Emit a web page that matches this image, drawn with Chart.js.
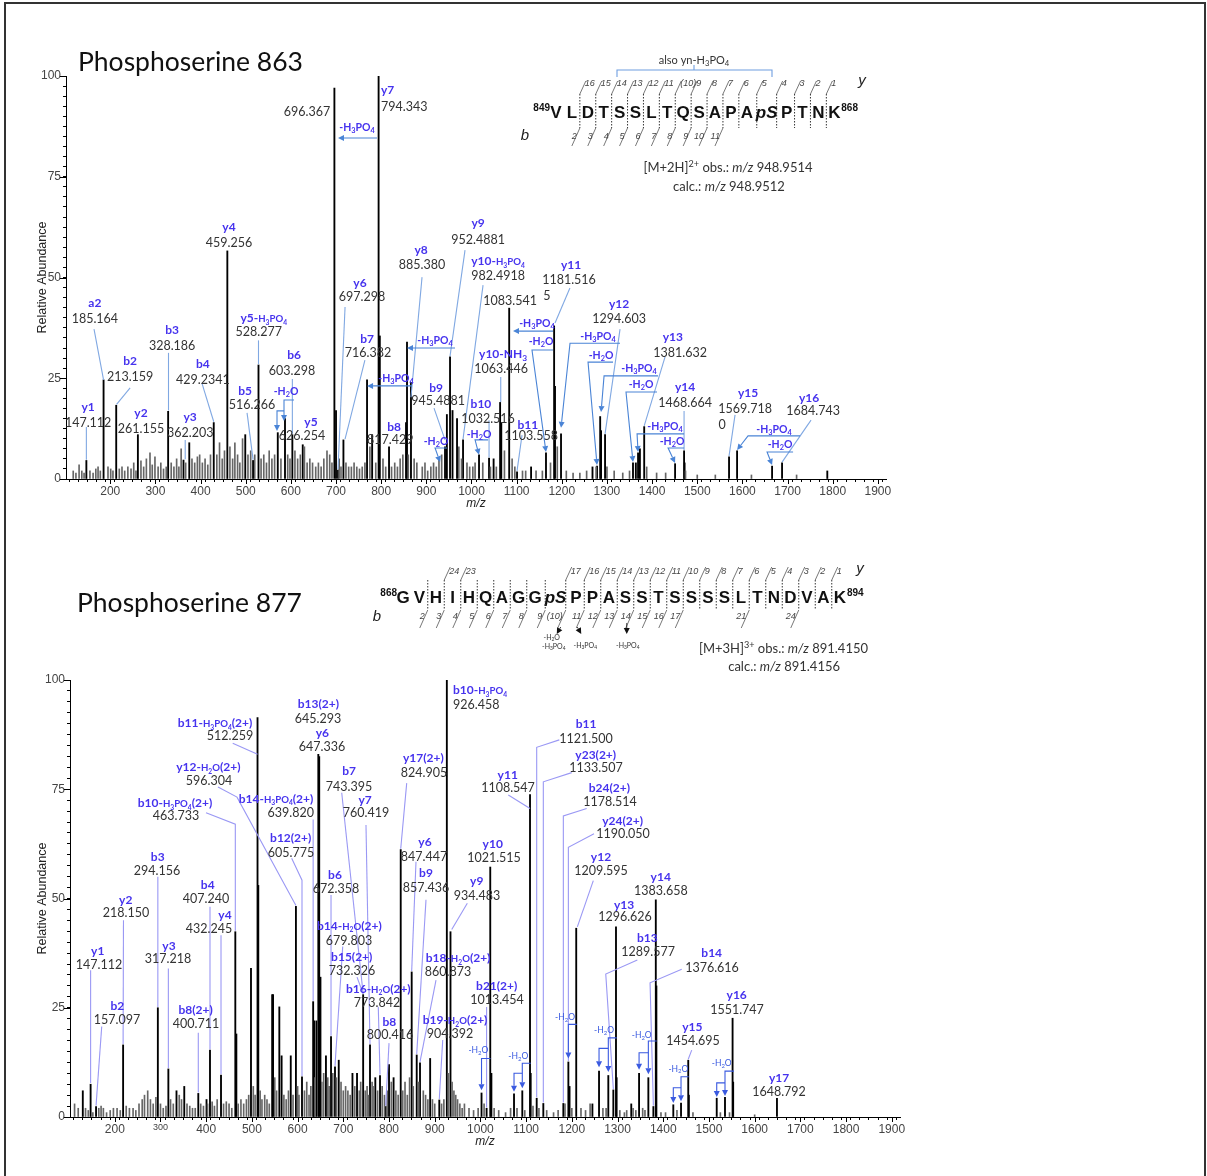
<!DOCTYPE html>
<html><head><meta charset="utf-8">
<script src="https://cdn.jsdelivr.net/npm/chart.js@4.4.1/dist/chart.umd.min.js"></script>
<style>
html,body{margin:0;padding:0;background:#fff;}
body{width:1207px;height:1176px;position:relative;overflow:hidden;}
#frame{position:absolute;left:4px;top:2px;width:1202px;height:1190px;border:2px solid #333;box-sizing:border-box;}
#c1{position:absolute;left:0;top:0;}
#c2{position:absolute;left:0;top:530px;}
</style></head><body>
<div id="frame"></div>
<canvas id="c1" width="1207" height="530"></canvas>
<canvas id="c2" width="1207" height="646"></canvas>
<script>
// ---------------- DATA ----------------
const XMIN = 102, XMAX = 1918;
const xTickStep = 20, xLabelStep = 100;
const yTickStep = 2.5, yLabelStep = 25;

// Phosphoserine 863 : [m/z, relative abundance]
const majorPeaks863 = [[147.1,4.6],[185.2,24.6],[213.2,18.3],[261.2,11],[328.2,16.8],[362.2,4.7],[375,9],[429.2,14],[459.3,56.6],[499,11],[516.3,4.6],[528.3,28.3],[571,11.5],[587,15],[603.3,11],[626.3,8.5],[696.4,97],[700,17],[704.4,2.2],[716.4,9.7],[768.7,24.6],[780,11],[794.3,100],[797,35.5],[817.4,8],[855,14],[857.2,34],[866,24],[941.4,8],[945.5,16],[952.5,30.3],[958,17],[968,15],[981.3,9.7],[1016.7,6],[1038.9,5.2],[1049,5],[1063.4,19],[1066,14],[1083.5,42.4],[1100.9,1.8],[1132,3],[1165,6.5],[1183,38],[1185,23],[1198.3,11.2],[1268,3],[1278,3.2],[1285,15.5],[1287,12],[1295.8,11],[1357.7,4],[1364,4],[1368.9,6.5],[1373,7.5],[1382.5,13],[1450.9,3.8],[1470.8,7],[1472,4],[1570.4,5.5],[1588.2,7],[1665.7,3.2],[1687.8,4],[1788,2]];
const minorPeaks863 = [[118,2],[124,1.5],[131,3.5],[137,2],[142,1.5],[155,2],[162,1.5],[168,2.5],[173,3],[178,2],[195,3],[201,2.5],[206,2],[220,2.5],[226,3],[232,2],[239,3],[246,2.5],[252,4],[257,2],[268,4.5],[274,3],[280,5],[288,6.5],[293,3.5],[299,5.5],[306,3],[312,4],[318,2.5],[324,3],[335,4],[341,3],[347,5],[352,3],[357,7.5],[367,4],[381,5],[387,4],[393,5.5],[398,6],[404,4],[410,5],[416,3.5],[422,6],[436,6],[442,9],[448,5],[453,7],[465,8],[471,5],[476,9],[482,6],[487,4],[493,10],[505,6],[511,7],[520,6],[534,5],[540,6],[546,4],[552,7],[558,5],[564,6],[578,5],[593,6],[598,5],[609,7],[615,5],[621,6],[630,8],[636,4],[642,5],[648,4],[655,3],[661,4],[667,3],[673,5],[680,7],[686,6],[691,4],[707,5],[711,3],[722,4],[728,3],[734,3],[740,4],[746,3],[752,2.5],[758,3],[764,4],[775,8],[788,4],[804,5],[810,3],[823,3],[830,4],[836,3],[842,5],[848,6],[860,6],[873,5],[879,4],[891,3],[897,4],[903,2],[910,3],[916,4],[922,3],[928,5],[934,6],[972,8],[978,5],[990,4],[996,3],[1003,3],[1008,4],[1025,4],[1042,3],[1055,3],[1073,7],[1090,5],[1096,3],[1113,2],[1120,2],[1143,2],[1157,2],[1175,4],[1190,8],[1210,2],[1225,1.5],[1240,1.5],[1255,2],[1276,3],[1300,3],[1316,2],[1335,1.5],[1350,2],[1388,3],[1410,1.5],[1430,1.5],[1474,2],[1500,1],[1540,1],[1620,1],[1720,1]];

// Phosphoserine 877
const majorPeaks877 = [[130,6],[147.1,7.5],[159,2.4],[218.2,16.5],[294.2,25],[317.2,11],[335,6],[352,7],[382.7,5.4],[400.7,4],[408.3,15.3],[432.4,9.6],[463.7,42.4],[466,19],[498,34],[512.3,91.4],[514,53],[544.3,28],[546.3,28],[560,25.2],[565,14],[585,14],[596.3,48.2],[609.6,9.2],[634,26.4],[636,22],[641,22],[645.3,83],[647.3,82.5],[650,32],[662,14],[673.1,18.4],[681.8,11.5],[690,13],[720,10],[730,10],[743.4,28],[758.4,16.5],[770,9],[780.3,9.5],[792.8,2.4],[800,12],[810,9],[825.6,61.2],[849.6,33.2],[860.6,14.2],[867.8,12.4],[890,13.4],[910,3.9],[926.5,100],[934.5,42.4],[1002.4,5.5],[1013.5,2],[1021.5,57.2],[1024,10],[1073.5,5.3],[1091.6,6],[1108.5,73.8],[1110,10],[1123.1,4.3],[1137.6,3.1],[1181.4,3.1],[1192.4,12.6],[1195,7],[1209.6,43.2],[1245,3],[1259.5,10.5],[1279.8,9.5],[1290.8,6.2],[1296.6,43.5],[1298,9],[1330,3],[1347.1,10],[1367.4,9],[1378.4,2.4],[1383.7,49.7],[1385,30],[1422,2.8],[1438.9,3.2],[1454.7,13],[1456,5],[1517,4.3],[1535.1,4.5],[1551.7,22.6],[1553,8],[1648.8,4.3]];
const minorPeaks877 = [[112,3],[120,2],[136,2],[142,1.5],[152,1],[165,2],[170,2.5],[175,2],[182,1],[190,1.5],[197,2],[205,2],[212,1.5],[225,2.5],[232,2],[240,2],[246,1.5],[253,3],[260,4],[265,5],[272,6],[278,4],[284,3],[290,4.5],[300,3],[306,2],[312,2.5],[322,4],[328,3],[341,5],[346,4],[358,3],[364,2.5],[370,2],[376,2],[388,3],[394,2.5],[403,3],[413,3.5],[418,2.5],[424,4],[438,3],[444,3.5],[450,3],[456,2],[470,3],[476,4],[482,3],[488,4],[493,5],[503,7],[507,5],[518,6],[522,4],[528,5],[533,4],[538,3],[550,9],[554,6],[570,5],[575,4],[580,6],[590,5],[600,7],[603,5],[615,6],[620,8],[625,5],[629,7],[638,9],[653,8],[657,10],[666,9],[669,7],[677,10],[685,9],[695,8],[700,6],[705,7],[710,6],[715,5],[725,7],[735,6],[738,8],[748,6],[752,7],[755,5],[763,8],[767,7],[775,6],[785,7],[790,5],[796,6],[805,8],[815,6],[820,5],[830,6],[835,8],[840,5],[845,9],[853,7],[865,8],[875,6],[880,5],[885,4],[895,4],[900,3],[915,3],[920,4],[930,10],[938,8],[942,6],[946,5],[950,4],[955,3],[960,2],[965,3],[975,2],[985,1.5],[995,2],[1008,3],[1030,2],[1040,1.5],[1055,1],[1066,2],[1080,2],[1097,1.5],[1115,2.5],[1128,2],[1145,1.5],[1160,1],[1170,1.5],[1185,3],[1200,2],[1220,2],[1230,1.5],[1240,3],[1268,2],[1275,2],[1305,1.5],[1315,1],[1320,1.5],[1334,2],[1340,1.5],[1355,2],[1360,1.5],[1395,1],[1405,1],[1430,1.5],[1465,1],[1525,1],[1545,1],[1600,0.5]];

// Peptide sequences
const seq863 = ['V','L','D','T','S','S','L','T','Q','S','A','P','A','pS','P','T','N','K'];
const seq877 = ['G','V','H','I','H','Q','A','G','G','pS','P','P','A','S','S','T','S','S','S','S','L','T','N','D','V','A','K'];

// Annotations (anchors in data coordinates: [m/z, abundance])
const ions863 = [
 {ion:'a2', mz:'185.164', at:[166,43.7], lead:[[164,37.2],[185.2,24.6]]},
 {ion:'y1', mz:'147.112', at:[151,17.9], lead:[[147.1,12.9],[147.1,4.8]]},
 {ion:'b2', mz:'213.159', at:[244,29.3], lead:[[244,22.6],[214,18.5]]},
 {ion:'y2', mz:'261.155', at:[268,16.4]},
 {ion:'b3', mz:'328.186', at:[337,37], lead:[[329,31.3],[329,17]]},
 {ion:'y3', mz:'362.203', at:[377,15.4], lead:[[366,9.7],[366,4.9]]},
 {ion:'b4', mz:'429.2341', at:[405,28.5], lead:[[403,23.8],[429.2,14.2]]},
 {ion:'y4', mz:'459.256', at:[463,62.5]},
 {ion:'y5-{H_3PO_4}', mz:'528.277', at:[540,40], vat:[529,36.5], lead:[[528.3,34.4],[528.3,28.5]]},
 {ion:'b5', mz:'516.266', at:[498.5,21.8], vat:[514,18.4], lead:[[503,16.4],[516.3,4.8]]},
 {ion:'b6', mz:'603.298', at:[607,30.8], vat:[602.5,27], lead:[[603.3,24.8],[603.3,11.2]]},
 {ion:'y5', mz:'626.254', at:[644.6,14.1], vat:[624.6,10.7]},
 {ion:'', mz:'696.367', at:[635.8,91.1]},
 {ion:'y7', mz:'794.343', at:[799.7,96.5], vat:[799.7,92.5], align:'left'},
 {ion:'y6', mz:'697.298', at:[753,48.6], vat:[757.5,45.2], lead:[[720,42.7],[704.4,2.4]]},
 {ion:'b7', mz:'716.382', at:[768.7,34.7], vat:[771,31.3], lead:[[764,29.5],[720,9.9]]},
 {ion:'y8', mz:'885.380', at:[888.3,57], vat:[890.5,53.3], lead:[[890.5,50.1],[866,20.3]]},
 {ion:'b8', mz:'817.429', at:[828.5,12.9], vat:[820,9.9]},
 {ion:'b9', mz:'945.4881', at:[921.5,22.6], vat:[925.9,19.4], lead:[[917,17.6],[941.4,9.7]]},
 {ion:'y9', mz:'952.4881', at:[1014.5,63.5], vat:[1014.5,59.5], lead:[[985.7,56.8],[952.5,30.5]]},
 {ion:'y10-{H_3PO_4}', mz:'982.4918', at:[1058.8,54.1], vat:[1058.8,50.4], lead:[[1025.6,48.1],[981.3,9.9]]},
 {ion:'', mz:'1083.541', at:[1085.4,44.4]},
 {ion:'y10-NH_3', mz:'1063.446', at:[1070,31], vat:[1065.5,27.3], lead:[[1064.8,25.3],[1064.8,19.1]]},
 {ion:'b10', mz:'1032.516', at:[1021,18.6], vat:[1036.6,15.1], lead:[[1038.9,14.6],[1038.9,5.4]]},
 {ion:'b11', mz:'1103.558', at:[1125,13.6], vat:[1131.9,10.9], lead:[[1111.9,10.9],[1100.9,2]]},
 {ion:'y11', mz:'1181.516', at:[1220.5,53.3], vat:[1216,49.6], lead:[[1218,47.4],[1185,38.7]]},
 {ion:'', mz:'5', at:[1167,45.6]},
 {ion:'y12', mz:'1294.603', at:[1327,43.4], vat:[1327,39.9], lead:[[1329,37.2],[1295.8,11.2]]},
 {ion:'y13', mz:'1381.632', at:[1446,35.2], vat:[1462,31.3], lead:[[1428.7,30.3],[1382.5,13.2]]},
 {ion:'y14', mz:'1468.664', at:[1473,22.8], vat:[1473,18.9], lead:[[1470.8,16.9],[1470.8,7.2]]},
 {ion:'y15', mz:'1569.718', at:[1612.5,21.3], vat:[1605.9,17.6], lead:[[1583.7,15.9],[1570.4,5.7]]},
 {ion:'', mz:'0', at:[1555,13.6]},
 {ion:'y16', mz:'1684.743', at:[1747.6,20.3], vat:[1756.4,16.9], lead:[[1752,14.6],[1687.8,4.2]]}
];
const losses863 = [
 {t:'-H_3PO_4', at:[746.5,87.3], lines:[[[790.8,84.6],[704.4,84.6]]]},
 {t:'-H_3PO_4', at:[832.9,25], lines:[[[868.3,23.1],[768.7,23.1]]]},
 {t:'-H_3PO_4', at:[919.3,34.5], lines:[[[963.5,32.5],[857.2,32.5]]]},
 {t:'-H_2O', at:[589.3,21.8], lines:[[[607,19.6],[584.8,19.6],[584.8,14.4]],[[584.8,16.9],[569.3,16.9],[569.3,11.9]]]},
 {t:'-H_2O', at:[921.5,9.4], lines:[[[945.8,7.7],[919.3,7.7],[930.4,4.2]]]},
 {t:'-H_2O', at:[1016.7,11.2], lines:[[[1036.7,9.7],[1007.9,9.7],[1016.7,6]]]},
 {t:'-H_3PO_4', at:[1145,38.7], lines:[[[1180.6,36.7],[1092,36.7]]]},
 {t:'-H_2O', at:[1154,34.2], lines:[[[1180.6,32],[1134,32],[1165,6.7]]]},
 {t:'-H_3PO_4', at:[1280.3,35.5], lines:[[[1329,33.7],[1218.2,33.7],[1198.3,12.7]]]},
 {t:'-H_2O', at:[1287,30.8], lines:[[[1313.5,29],[1258.1,29],[1278,3.5]]]},
 {t:'-H_3PO_4', at:[1371,27.5], lines:[[[1413.1,25.6],[1293.6,25.6],[1287,16.6]]]},
 {t:'-H_2O', at:[1375.5,23.6], lines:[[[1410.9,21.6],[1342.2,21.6],[1357.7,4.2]]]},
 {t:'-H_3PO_4', at:[1428.7,13.1], lines:[[[1470.8,11.2],[1366.7,11.2],[1368.9,6.7]]]},
 {t:'-H_2O', at:[1444.2,9.4], lines:[[[1470.8,7.7],[1435.4,7.7],[1450.9,4]]]},
 {t:'-H_3PO_4', at:[1670,12.4], lines:[[[1727.7,10.7],[1612.5,10.7],[1588.2,7.2]]]},
 {t:'-H_2O', at:[1683.4,8.7], lines:[[[1712.2,6.7],[1654.6,6.7],[1665.7,3.5]]]}
];

const ions877 = [
 {ion:'y1', mz:'147.112', at:[162.6,38], vat:[165.5,34.8], lead:[[147.1,33.6],[147.1,7.8]]},
 {ion:'b2', mz:'157.097', at:[205.5,25.4], vat:[204.8,22.2], lead:[[171.4,20.7],[159,2.6]]},
 {ion:'y2', mz:'218.150', at:[223.9,49.8], vat:[224.5,46.7], lead:[[219,45],[218.2,16.7]]},
 {ion:'b3', mz:'294.156', at:[293.9,59.6], vat:[292.4,56.3], lead:[[294.2,55],[294.2,25.2]]},
 {ion:'y3', mz:'317.218', at:[318.6,39.2], vat:[316.4,36.2], lead:[[317.2,34],[317.2,11.2]]},
 {ion:'b8(2+)', mz:'400.711', at:[376.9,24.6], vat:[377.7,21.5], lead:[[382.7,19.3],[382.7,5.6]]},
 {ion:'b4', mz:'407.240', at:[403.3,53.1], vat:[399.6,49.9], lead:[[408.3,48.1],[408.3,15.5]]},
 {ion:'y4', mz:'432.245', at:[441.1,46.2], vat:[406.1,43.2], lead:[[432.4,41.6],[432.4,9.8]]},
 {ion:'b10-{H_3PO_4}(2+)', mz:'463.733', at:[331.7,71.9], vat:[333.9,68.9], lead:[[399.6,69.6],[463.7,67],[463.7,42.6]]},
 {ion:'b11-{H_3PO_4}(2+)', mz:'512.259', at:[419.3,90.2], vat:[452.1,87.2], lead:[[458,85.5],[512.3,83]]},
 {ion:'y12-{H_2O}(2+)', mz:'596.304', at:[404.6,80.1], vat:[406.1,76.9], lead:[[425.8,75.5],[467.4,73.2],[596.3,48.4]]},
 {ion:'b14-{H_3PO_4}(2+)', mz:'639.820', at:[552.7,72.9], vat:[584.9,69.7], lead:[[634,68.1],[634,26.6]]},
 {ion:'b13(2+)', mz:'645.293', at:[645.3,94.5], vat:[644.6,91.3]},
 {ion:'y6', mz:'647.336', at:[654,87.9], vat:[653.4,84.7]},
 {ion:'b12(2+)', mz:'605.775', at:[584.9,64], vat:[585.5,60.6], lead:[[587,59.2],[609.6,54.2],[609.6,9.4]]},
 {ion:'b7', mz:'743.395', at:[712.5,79.2], vat:[712.5,75.7], lead:[[696.5,74.2],[743.4,28.2]]},
 {ion:'y7', mz:'760.419', at:[747.5,72.7], vat:[749.6,69.6], lead:[[749.6,66.8],[758.4,16.7]]},
 {ion:'y17(2+)', mz:'824.905', at:[875,82.2], vat:[876.6,78.9], lead:[[838.7,76.4],[825.6,61.4]]},
 {ion:'y6', mz:'847.447', at:[878.7,63], vat:[876.6,59.7], lead:[[859,58.4],[849.6,33.4]]},
 {ion:'b9', mz:'857.436', at:[880.9,55.8], vat:[880.9,52.6], lead:[[880.9,49.7],[860.6,14.4]]},
 {ion:'b6', mz:'672.358', at:[681.8,55.4], vat:[684,52.2], lead:[[673.1,50.8],[673.1,18.6]]},
 {ion:'b14-{H_2O}(2+)', mz:'679.803', at:[713.1,43.8], vat:[712.5,40.5], lead:[[698.7,39],[681.8,11.7]]},
 {ion:'b15(2+)', mz:'732.326', at:[718.4,36.7], vat:[719,33.6], lead:[[730,32],[743.4,28.2]]},
 {ion:'b16-{H_2O}(2+)', mz:'773.842', at:[776.5,29.4], vat:[773.7,26.3], lead:[[776.5,25.2],[780.3,9.7]]},
 {ion:'b8', mz:'800.416', at:[800.6,21.8], vat:[802.2,18.8], lead:[[800,16.9],[792.8,2.6]]},
 {ion:'b18-{H_2O}(2+)', mz:'860.873', at:[951,36.4], vat:[929.1,33.4], lead:[[902.8,31.3],[867.8,12.6]]},
 {ion:'b19-{H_2O}(2+)', mz:'904.392', at:[944.4,22.2], vat:[933.4,19.2], lead:[[917.5,17.6],[910,4.1]]},
 {ion:'b10-{H_3PO_4}', mz:'926.458', at:[940,97.7], vat:[940,94.5], align:'left'},
 {ion:'y9', mz:'934.483', at:[991.9,54.1], vat:[992.5,50.8], lead:[[971.3,48.9],[937.2,42.9]]},
 {ion:'y10', mz:'1021.515', at:[1026.9,62.6], vat:[1029.7,59.3]},
 {ion:'b21(2+)', mz:'1013.454', at:[1035.6,30], vat:[1036.3,26.8], lead:[[1013.5,25.2],[1013.5,2.2]]},
 {ion:'y11', mz:'1108.547', at:[1059.7,78.4], vat:[1060.3,75.3], lead:[[1061,73.7],[1108.5,70.6]]},
 {ion:'b11', mz:'1121.500', at:[1231,90], vat:[1231,86.7], lead:[[1172.6,86.3],[1123.1,84.6],[1123.1,4.5]]},
 {ion:'y23(2+)', mz:'1133.507', at:[1252.3,83], vat:[1252.9,79.9], lead:[[1199.7,78.8],[1137.6,76.7],[1137.6,3.3]]},
 {ion:'b24(2+)', mz:'1178.514', at:[1282,75.4], vat:[1283.5,72.3], lead:[[1232.5,70.6],[1181.4,68.9],[1181.4,3.3]]},
 {ion:'y24(2+)', mz:'1190.050', at:[1311,67.8], vat:[1311.9,64.8], lead:[[1248.5,64.8],[1192.4,61.7],[1192.4,12.8]]},
 {ion:'y12', mz:'1209.595', at:[1263.8,59.6], vat:[1263.8,56.3], lead:[[1247,54.1],[1212,43.5]]},
 {ion:'y14', mz:'1383.658', at:[1394.5,55.1], vat:[1395,51.9]},
 {ion:'y13', mz:'1296.626', at:[1314.2,48.7], vat:[1316.3,45.8]},
 {ion:'b13', mz:'1289.577', at:[1365.1,41.1], vat:[1366.7,37.8], lead:[[1343.3,35.9],[1274.2,32.7],[1290.8,6.4]]},
 {ion:'b14', mz:'1376.616', at:[1506,37.5], vat:[1506.7,34.1], lead:[[1440.4,33.8],[1371.1,30.7],[1378.4,2.6]]},
 {ion:'y15', mz:'1454.695', at:[1463.6,20.7], vat:[1465.1,17.6], lead:[[1462.3,15.3],[1454.7,13.2]]},
 {ion:'y16', mz:'1551.747', at:[1560.7,27.9], vat:[1561.4,24.7]},
 {ion:'y17', mz:'1648.792', at:[1653.3,9.1], vat:[1653.3,5.9]}
];
const losses877 = [
 {t:'-H_2O', at:[995.4,15.3], lines:[[[1022,13.4],[1002.4,13.4],[1002.4,6.1]]]},
 {t:'-H_2O', at:[1082.9,14], lines:[[[1110,12.3],[1091.6,12.3],[1091.6,6.6]],[[1091.6,10],[1073.5,10],[1073.5,5.8]]]},
 {t:'-H_2O', at:[1185,22.8], lines:[[[1210.7,21.2],[1192.4,21.2],[1192.4,13.4]]]},
 {t:'-H_2O', at:[1270.4,19.9], lines:[[[1298.2,18.1],[1279.8,18.1],[1279.8,10.3]],[[1279.8,15.7],[1259.5,15.7],[1259.5,11.4]]]},
 {t:'-H_2O', at:[1352.8,18.8], lines:[[[1385.8,17.4],[1367.4,17.4],[1367.4,9.8]],[[1367.4,14.7],[1347.1,14.7],[1347.1,10.8]]]},
 {t:'-H_2O', at:[1433,11.1], lines:[[[1455.7,9.2],[1438.9,9.2],[1438.9,3.6]],[[1438.9,6.7],[1422,6.7],[1422,3.2]]]},
 {t:'-H_2O', at:[1527.9,12.3], lines:[[[1554.8,10.5],[1535.1,10.5],[1535.1,4.8]],[[1535.1,7.8],[1517,7.8],[1517,4.6]]]}
];

// ---------------- DRAWING HELPERS ----------------
const FONT = 'Lato, "Open Sans", sans-serif';
const AX_FONT = '"Liberation Sans", Arial, sans-serif';

function richRuns(str){
  const runs=[]; let small=false, it=false;
  const push=(t,f)=>{const last=runs[runs.length-1];
    if(last && last.small===f.small && last.it===f.it && !!last.sub===!!f.sub && !!last.sup===!!f.sup) last.t+=t;
    else runs.push(Object.assign({t},f));};
  for(let i=0;i<str.length;i++){
    const c=str[i];
    if(c==='{'){small=true;continue;}
    if(c==='}'){small=false;continue;}
    if(c==='*'){it=!it;continue;}
    if(c==='_'){push(str[++i],{small,it,sub:true});continue;}
    if(c==='^'){const j=str.indexOf(']',i);push(str.slice(i+2,j),{small,it,sup:true});i=j;continue;}
    push(c,{small,it});
  }
  return runs;
}
function drawRich(ctx,str,x,y,o){
  const size=o.size, fam=o.family||FONT, wt=o.weight||'normal';
  const runs=richRuns(str);
  const fontFor=r=>{let s=size*(r.small?0.8:1); if(r.sub||r.sup) s*=0.7; return (r.it?'italic ':'')+wt+' '+s.toFixed(2)+'px '+fam;};
  let w=0; runs.forEach(r=>{ctx.font=fontFor(r); r.w=ctx.measureText(r.t).width; w+=r.w;});
  let sx=o.align==='left'?x:(o.align==='right'?x-w:x-w/2);
  ctx.fillStyle=o.color; ctx.textBaseline='alphabetic'; ctx.textAlign='left';
  const base=y+size*0.36;
  runs.forEach(r=>{ctx.font=fontFor(r); let dy=0; if(r.sub) dy=size*0.2; if(r.sup) dy=-size*0.38; ctx.fillText(r.t,sx,base+dy); sx+=r.w;});
  return w;
}
function polyline(ctx,pts,color,lw,arrow){
  ctx.save(); ctx.strokeStyle=color; ctx.fillStyle=color; ctx.lineWidth=lw; ctx.setLineDash([]);
  const n=pts.length; let end=pts[n-1];
  if(arrow){const p=pts[n-2]; const a=Math.atan2(end[1]-p[1],end[0]-p[0]); 
    const L=6,W=3; const bx=end[0]-L*Math.cos(a), by=end[1]-L*Math.sin(a);
    ctx.beginPath(); ctx.moveTo(pts[0][0],pts[0][1]); for(let i=1;i<n-1;i++) ctx.lineTo(pts[i][0],pts[i][1]); ctx.lineTo(bx,by); ctx.stroke();
    ctx.beginPath(); ctx.moveTo(end[0],end[1]); ctx.lineTo(bx+W*Math.sin(a),by-W*Math.cos(a)); ctx.lineTo(bx-W*Math.sin(a),by+W*Math.cos(a)); ctx.closePath(); ctx.fill();
  } else {ctx.beginPath(); ctx.moveTo(pts[0][0],pts[0][1]); for(let i=1;i<n;i++) ctx.lineTo(pts[i][0],pts[i][1]); ctx.stroke();}
  ctx.restore();
}
function drawSequence(ctx,s){
  const cx=s.res.map((r,i)=>s.x0+i*s.pitch+(i>=s.pIdx?4:0)+(i>s.pIdx?4:0));
  ctx.save();
  ctx.fillStyle='#111'; ctx.textBaseline='middle'; ctx.textAlign='center';
  s.res.forEach((r,i)=>{ctx.font=(r==='pS'?'italic ':'')+'bold 17px '+AX_FONT; ctx.fillText(r,cx[i],s.y+1);});
  ctx.font='bold 10px '+AX_FONT; ctx.textAlign='right'; ctx.fillText(s.startNum,cx[0]-6,s.y-4);
  ctx.textAlign='left'; ctx.fillText(s.endNum,cx[cx.length-1]+7,s.y-4);
  ctx.font='italic 9px '+AX_FONT; ctx.fillStyle='#444';
  s.seps=[];
  for(let i=s.sepFrom;i<=s.sepTo;i++){
    const x=(cx[i]+cx[i+1])/2; s.seps[i]=x;
    ctx.strokeStyle='#333'; ctx.lineWidth=1; ctx.setLineDash([1.5,1.5]);
    ctx.beginPath(); ctx.moveTo(x,s.sepTop); ctx.lineTo(x,s.sepBot); ctx.stroke(); ctx.setLineDash([]);
    ctx.strokeStyle='#555'; ctx.lineWidth=0.8;
    const yl=s.yLab(i);
    if(yl){ctx.beginPath(); ctx.moveTo(x,s.sepTop); ctx.lineTo(x+6,s.sepTop-13); ctx.stroke();
      ctx.textAlign='left'; ctx.fillText(yl,x+5,s.yNumY);}
    const bl=s.bLab(i);
    if(bl){ctx.beginPath(); ctx.moveTo(x,s.sepBot); ctx.lineTo(x-8,s.sepBot+18); ctx.stroke();
      ctx.textAlign='right'; ctx.fillText(bl,x-3,s.bNumY);}
  }
  ctx.font='italic 15px '+AX_FONT; ctx.fillStyle='#222'; ctx.textAlign='center';
  ctx.fillText('y',s.yPos[0],s.yPos[1]); ctx.fillText('b',s.bPos[0],s.bPos[1]);
  ctx.restore();
  return s.seps;
}
function majorTicks(ctx,chart){
  const xs=chart.scales.x, ys=chart.scales.y;
  ctx.save(); ctx.strokeStyle='#000'; ctx.lineWidth=1;
  for(let v=200;v<=1900;v+=xLabelStep){const x=Math.round(xs.getPixelForValue(v))+0.5; ctx.beginPath(); ctx.moveTo(x,xs.top); ctx.lineTo(x,xs.top+5); ctx.stroke();}
  for(let v=0;v<=100;v+=yLabelStep){const y=Math.round(ys.getPixelForValue(v))+0.5; ctx.beginPath(); ctx.moveTo(ys.right-6,y); ctx.lineTo(ys.right,y); ctx.stroke();}
  ctx.restore();
}
function annotPlugin(spec){
  return {
    id:'annot'+spec.name,
    afterDatasetsDraw(chart){
      const ctx=chart.ctx, xs=chart.scales.x, ys=chart.scales.y;
      const P=p=>[xs.getPixelForValue(p[0]),ys.getPixelForValue(p[1])];
      spec.ions.forEach(o=>{if(o.lead) polyline(ctx,o.lead.map(P),spec.leadColor,1.1,false);});
      spec.losses.forEach(o=>o.lines.forEach(l=>polyline(ctx,l.map(P),spec.lossColor,1.1,true)));
      spec.ions.forEach(o=>{
        const [x,y]=P(o.at); const al=o.align||'center';
        if(o.ion){
          drawRich(ctx,o.ion,x,y,{size:spec.ionSize,weight:'bold',color:spec.ionColor,align:al});
          const v=o.vat?P(o.vat):[x,y+15.5];
          drawRich(ctx,o.mz,v[0],v[1],{size:spec.valSize,color:'#333',align:al});
        } else drawRich(ctx,o.mz,x,y,{size:spec.valSize,color:'#333',align:al});
      });
      spec.losses.forEach(o=>{const [x,y]=P(o.at); drawRich(ctx,o.t,x,y,{size:spec.lossSize,weight:spec.lossWeight,color:spec.lossText,align:'center'});});
    },
    afterDraw(chart){majorTicks(chart.ctx,chart); spec.decor(chart.ctx,chart);}
  };
}
function makeOptions(pad,yTitlePad,smallTick){
  return {
    responsive:false, animation:false, devicePixelRatio:1, events:[],
    layout:{padding:pad},
    plugins:{legend:{display:false},tooltip:{enabled:false}},
    scales:{
      x:{type:'linear',min:XMIN,max:XMAX,offset:false,
        border:{color:'#000',width:1},
        grid:{drawOnChartArea:false,tickLength:3,color:'#000',lineWidth:1},
        ticks:{stepSize:xTickStep,autoSkip:false,includeBounds:false,maxRotation:0,padding:2,color:'#444',
          font:(c)=>({family:AX_FONT,size:(smallTick && c.tick && c.tick.value===smallTick)?9:12}),
          callback:v=>(v%xLabelStep===0?String(v):'')},
        title:{display:true,text:'m/z',color:'#222',font:{family:AX_FONT,size:12,style:'italic'},padding:{top:0,bottom:8}},
        afterFit:s=>{s.height=40;}},
      y:{type:'linear',min:0,max:100,
        border:{color:'#000',width:1},
        grid:{drawOnChartArea:false,tickLength:3,color:'#000',lineWidth:1},
        ticks:{stepSize:yTickStep,autoSkip:false,padding:2,color:'#444',font:{family:AX_FONT,size:12},
          callback:v=>(Math.abs(v%yLabelStep)<1e-6?String(v):'')},
        title:{display:true,text:'Relative Abundance',color:'#222',font:{family:AX_FONT,size:12.5},padding:{top:yTitlePad,bottom:0}},
        afterFit:s=>{s.width=36;}}
    }
  };
}
const toXY=arr=>arr.map(p=>({x:p[0],y:p[1]}));
function datasets(major,minor){
  return [
    {data:toXY(minor),backgroundColor:'#666',barThickness:1,grouped:false},
    {data:toXY(major),backgroundColor:'#000',barThickness:1.2,grouped:false}
  ];
}

// ---------------- CHART 1 ----------------
new Chart(document.getElementById('c1'),{
  type:'bar',
  data:{datasets:datasets(majorPeaks863,minorPeaks863)},
  options:makeOptions({left:30,right:321,top:76,bottom:11},5,null),
  plugins:[annotPlugin({name:'863',ions:ions863,losses:losses863,
    leadColor:'#80a8e2',lossColor:'#4a84d6',ionColor:'#4633ee',lossText:'#4633ee',
    ionSize:12,valSize:12.5,lossSize:10.5,lossWeight:'bold',
    decor(ctx){
      ctx.save(); ctx.fillStyle='#111'; ctx.font='26.5px '+FONT; ctx.textBaseline='middle'; ctx.textAlign='left';
      ctx.fillText('Phosphoserine 863',78,62); ctx.restore();
      drawSequence(ctx,{x0:556,pitch:15.9,pIdx:13,y:112,res:seq863,startNum:'849',endNum:'868',
        sepFrom:1,sepTo:16,sepTop:94,sepBot:128,yNumY:83,bNumY:136,yPos:[862,81],bPos:[525,136],
        yLab:i=>(i===7?'(10)':String(17-i)),bLab:i=>(i<=10?String(i+1):'')});
      polyline(ctx,[[617,77],[617,70],[772,70],[772,77]],'#6f9ee0',1.1,false);
      polyline(ctx,[[694,70],[694,65]],'#6f9ee0',1.1,false);
      drawRich(ctx,'also yn-H_3PO_4',694,60,{size:11,color:'#333',align:'center'});
      drawRich(ctx,'[M+2H]^[2+] obs.: *m/z* 948.9514',728,167,{size:13,color:'#333',align:'center'});
      drawRich(ctx,'calc.: *m/z* 948.9512',729,186,{size:13,color:'#333',align:'center'});
    }})]
});

// ---------------- CHART 2 ----------------
new Chart(document.getElementById('c2'),{
  type:'bar',
  data:{datasets:datasets(majorPeaks877,minorPeaks877)},
  options:makeOptions({left:34,right:307,top:150,bottom:19},1,300),
  plugins:[annotPlugin({name:'877',ions:ions877,losses:losses877,
    leadColor:'#9a98f4',lossColor:'#3a5ae0',ionColor:'#4633ee',lossText:'#3a5ae0',
    ionSize:12,valSize:12.5,lossSize:8.5,lossWeight:'normal',
    decor(ctx){
      ctx.save(); ctx.fillStyle='#111'; ctx.font='26.5px '+FONT; ctx.textBaseline='middle'; ctx.textAlign='left';
      ctx.fillText('Phosphoserine 877',77,73); ctx.restore();
      const seps=drawSequence(ctx,{x0:403,pitch:16.5,pIdx:9,y:67,res:seq877,startNum:'868',endNum:'894',
        sepFrom:1,sepTo:25,sepTop:50,sepBot:80,yNumY:41,bNumY:86,yPos:[860,39],bPos:[377,87],
        yLab:i=>(i===2?'24':i===3?'23':(i>=9?String(26-i):'')),
        bLab:i=>(i<=8?String(i+1):i===9?'(10)':(i<=16?String(i+1):i===20?'21':i===23?'24':''))});
      polyline(ctx,[[seps[9]-5,97],[seps[9]-9,104]],'#111',0.8,true);
      polyline(ctx,[[seps[10]-7,97],[seps[10]-3,104]],'#111',0.8,true);
      polyline(ctx,[[seps[13]-7,93],[seps[13]-7,104]],'#111',0.8,true);
      drawRich(ctx,'-H_2O',seps[9]-14,107,{size:7,color:'#333',align:'center'});
      drawRich(ctx,'-H_3PO_4',seps[9]-12,116,{size:7,color:'#333',align:'center'});
      drawRich(ctx,'-H_3PO_4',seps[10]+1,115,{size:7,color:'#333',align:'center'});
      drawRich(ctx,'-H_3PO_4',seps[13]-6,115,{size:7,color:'#333',align:'center'});
      drawRich(ctx,'[M+3H]^[3+] obs.: *m/z* 891.4150',868,118,{size:13,color:'#333',align:'right'});
      drawRich(ctx,'calc.: *m/z* 891.4156',840,136,{size:13,color:'#333',align:'right'});
    }})]
});
</script></body></html>
